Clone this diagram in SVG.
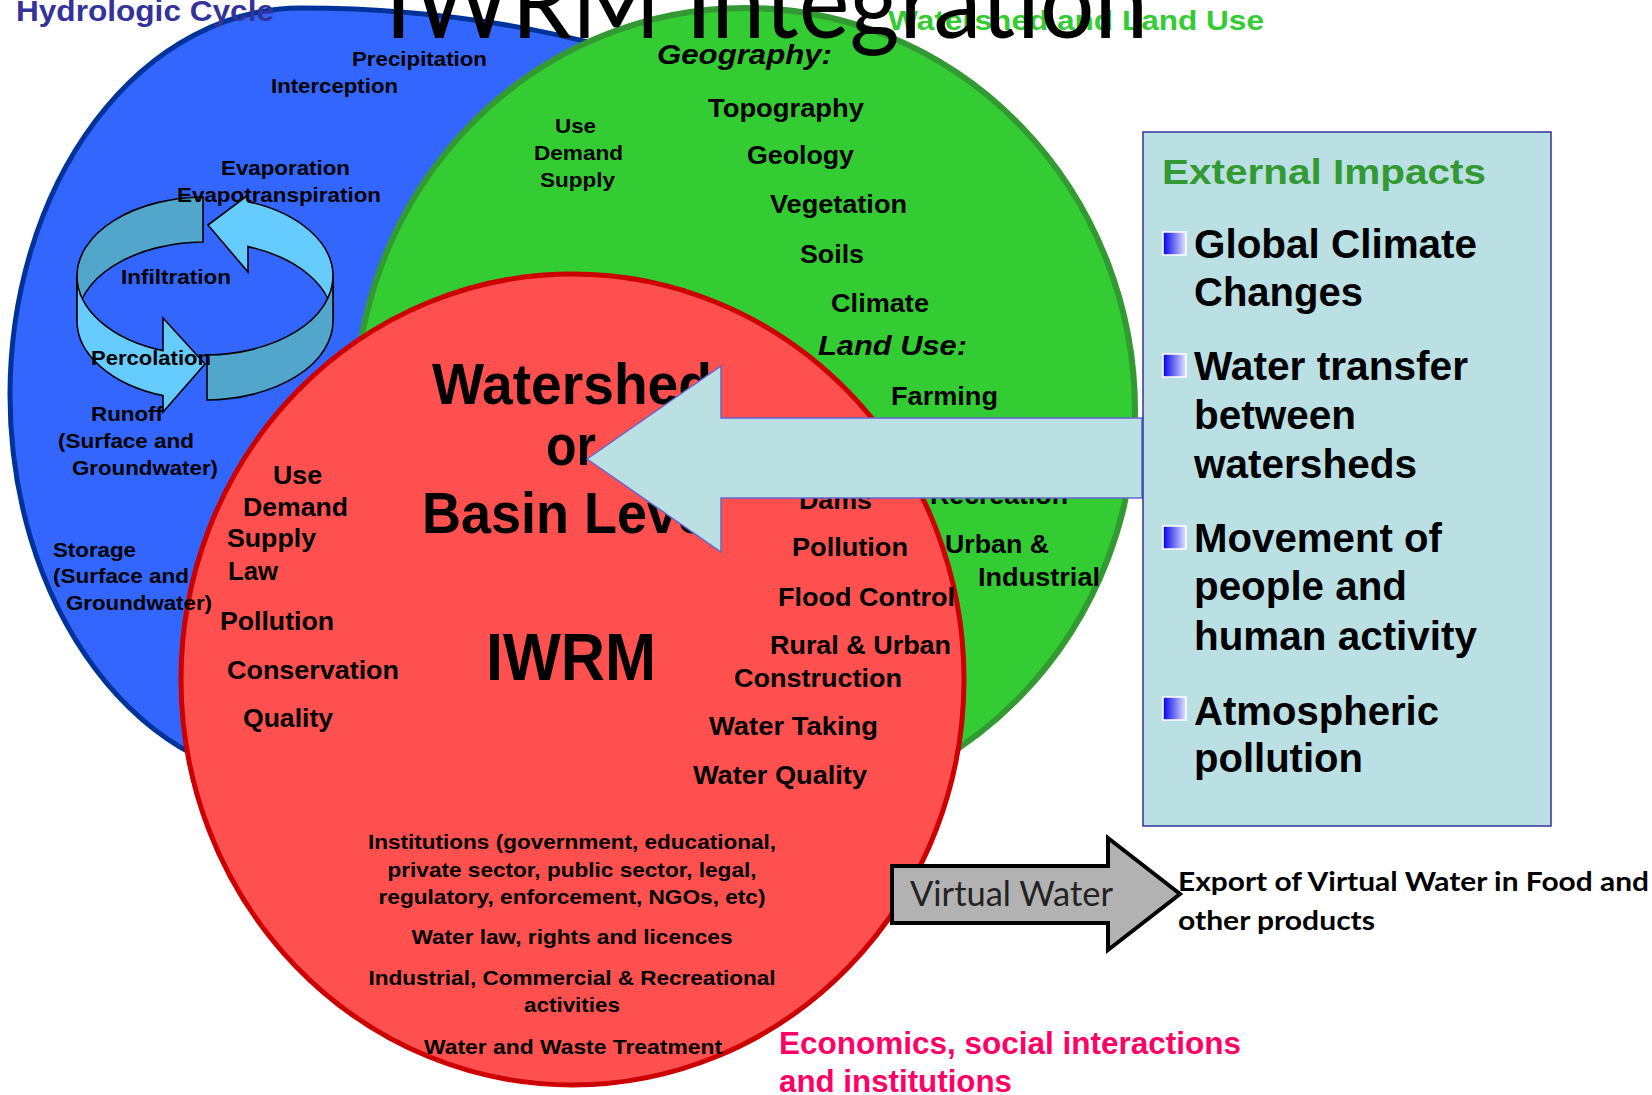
<svg xmlns="http://www.w3.org/2000/svg" width="1652" height="1095" viewBox="0 0 1652 1095">
  <defs>
    <style>
      .b { font-family: "Liberation Sans", Arial, sans-serif; font-weight: bold; fill: #000; }
      .n { font-family: "Liberation Sans Narrow", "Liberation Sans", Arial, sans-serif; font-weight: bold; fill: #000; }
      .it { font-style: italic; }
      .c { text-anchor: middle; }
      .ring-dark { fill: #52A5CB; stroke: #000; stroke-width: 1.6; stroke-linejoin: miter; }
      .ring-light { fill: #66CCFF; stroke: #000; stroke-width: 1.6; stroke-linejoin: miter; }
      .bullet { fill: url(#bulletFill); stroke: #fff; stroke-width: 1.5; }
    </style>
    <linearGradient id="bulletFill" x1="0" y1="0" x2="1" y2="0">
      <stop offset="0" stop-color="#0000E8"/>
      <stop offset="1" stop-color="#E4E4FF"/>
    </linearGradient>
  </defs>

  <rect width="1652" height="1095" fill="#fff"/>

  <!-- Venn circles -->
  <g id="hydrologic-cycle-shape">
    <!-- left half follows a narrow ellipse, the top-right quarter a flatter one; the rest lies under the other circles -->
    <path d="M301,782 A291,387 0 0 1 301,8 A700,387 0 0 1 1001,395 L700,700 Z" fill="#3366FF" stroke="#003399" stroke-width="5" stroke-linejoin="round"/>
    <!-- circular arrow of the water cycle -->
    <g id="cycle-ring">
      <path class="ring-dark" d="M203,197 A128,79 0 0 0 77,276 L77,321 A128,79 0 0 1 203,242 Z"/>
      <path class="ring-light" d="M208,225 L248,195 L248,201.6 A128,79 0 0 1 333,276 L333,321 A128,79 0 0 0 248,246.6 L248,272 Z"/>
      <path class="ring-dark" d="M333,276 A128,79 0 0 1 207,355 L207,400 A128,79 0 0 0 333,321 Z"/>
      <path class="ring-light" d="M77,276 A128,79 0 0 0 163,350.6 L163,318 L205,364 L163,412 L163,395.6 A128,79 0 0 1 77,321 Z"/>
    </g>
  </g>
  <g id="watershed-land-use-shape">
    <ellipse cx="745" cy="411" rx="390" ry="403" fill="#33CC33" stroke="#339933" stroke-width="6"/>
  </g>
  <g id="iwrm-basin-shape">
    <ellipse cx="572.5" cy="679.5" rx="391.5" ry="405.5" fill="#FF5050" stroke="#CC0000" stroke-width="5"/>
  </g>

  <!-- Hydrologic cycle labels -->
  <g id="hydrologic-cycle">
    <text x="16" y="21" class="b" font-size="29" style="fill:#333399" textLength="258" lengthAdjust="spacingAndGlyphs">Hydrologic Cycle</text>
    <text x="352" y="66" class="n" font-size="21" textLength="135" lengthAdjust="spacingAndGlyphs">Precipitation</text>
    <text x="271" y="93" class="n" font-size="21" textLength="127" lengthAdjust="spacingAndGlyphs">Interception</text>
    <text x="221" y="175" class="n" font-size="21" textLength="129" lengthAdjust="spacingAndGlyphs">Evaporation</text>
    <text x="177" y="202" class="n" font-size="21" textLength="204" lengthAdjust="spacingAndGlyphs">Evapotranspiration</text>
    <text x="121" y="284" class="n" font-size="21" textLength="110" lengthAdjust="spacingAndGlyphs">Infiltration</text>
    <text x="91" y="365" class="n" font-size="21" textLength="120" lengthAdjust="spacingAndGlyphs">Percolation</text>
    <text x="91" y="421" class="b" font-size="21" textLength="72" lengthAdjust="spacingAndGlyphs">Runoff</text>
    <text x="58" y="448" class="b" font-size="21" textLength="136" lengthAdjust="spacingAndGlyphs">(Surface and</text>
    <text x="72" y="475" class="b" font-size="21" textLength="146" lengthAdjust="spacingAndGlyphs">Groundwater)</text>
    <text x="53" y="557" class="b" font-size="21" textLength="83" lengthAdjust="spacingAndGlyphs">Storage</text>
    <text x="53" y="583" class="b" font-size="21" textLength="136" lengthAdjust="spacingAndGlyphs">(Surface and</text>
    <text x="66" y="610" class="b" font-size="21" textLength="146" lengthAdjust="spacingAndGlyphs">Groundwater)</text>
  </g>

  <!-- Watershed and land use labels -->
  <g id="watershed-land-use">
    <text x="888" y="30" class="b" font-size="28" style="fill:#33CC33" textLength="376" lengthAdjust="spacingAndGlyphs">Watershed and Land Use</text>
    <text x="555" y="133" class="n" font-size="21" textLength="41" lengthAdjust="spacingAndGlyphs">Use</text>
    <text x="534" y="160" class="n" font-size="21" textLength="89" lengthAdjust="spacingAndGlyphs">Demand</text>
    <text x="540" y="187" class="n" font-size="21" textLength="75" lengthAdjust="spacingAndGlyphs">Supply</text>
    <text x="657" y="64" class="n it" font-size="28" textLength="175" lengthAdjust="spacingAndGlyphs">Geography:</text>
    <text x="708" y="117" class="n" font-size="25" textLength="156" lengthAdjust="spacingAndGlyphs">Topography</text>
    <text x="747" y="164" class="n" font-size="25" textLength="107" lengthAdjust="spacingAndGlyphs">Geology</text>
    <text x="770" y="213" class="n" font-size="25" textLength="137" lengthAdjust="spacingAndGlyphs">Vegetation</text>
    <text x="800" y="263" class="n" font-size="25" textLength="64" lengthAdjust="spacingAndGlyphs">Soils</text>
    <text x="831" y="312" class="n" font-size="25" textLength="98" lengthAdjust="spacingAndGlyphs">Climate</text>
    <text x="818" y="355" class="n it" font-size="28" textLength="149" lengthAdjust="spacingAndGlyphs">Land Use:</text>
    <text x="891" y="405" class="n" font-size="25" textLength="107" lengthAdjust="spacingAndGlyphs">Farming</text>
    <text x="930" y="504" class="n" font-size="25" textLength="138" lengthAdjust="spacingAndGlyphs">Recreation</text>
    <text x="945" y="553" class="b" font-size="25" textLength="104" lengthAdjust="spacingAndGlyphs">Urban &amp;</text>
    <text x="978" y="586" class="b" font-size="25" textLength="122" lengthAdjust="spacingAndGlyphs">Industrial</text>
  </g>

  <!-- IWRM / basin level labels -->
  <g id="iwrm-basin">
    <text x="572" y="404" class="n c" font-size="57" textLength="280" lengthAdjust="spacingAndGlyphs">Watershed</text>
    <text x="571" y="465" class="n c" font-size="57" textLength="50" lengthAdjust="spacingAndGlyphs">or</text>
    <text x="572" y="533" class="n c" font-size="57" textLength="300" lengthAdjust="spacingAndGlyphs">Basin Level</text>
    <text x="486" y="680" class="n" font-size="66" textLength="170" lengthAdjust="spacingAndGlyphs">IWRM</text>

    <text x="273" y="484" class="b" font-size="26" textLength="49" lengthAdjust="spacingAndGlyphs">Use</text>
    <text x="243" y="516" class="b" font-size="26" textLength="105" lengthAdjust="spacingAndGlyphs">Demand</text>
    <text x="227" y="547" class="b" font-size="26" textLength="89" lengthAdjust="spacingAndGlyphs">Supply</text>
    <text x="228" y="580" class="b" font-size="26" textLength="50" lengthAdjust="spacingAndGlyphs">Law</text>
    <text x="220" y="630" class="b" font-size="26" textLength="114" lengthAdjust="spacingAndGlyphs">Pollution</text>
    <text x="227" y="679" class="b" font-size="26" textLength="172" lengthAdjust="spacingAndGlyphs">Conservation</text>
    <text x="243" y="727" class="b" font-size="26" textLength="90" lengthAdjust="spacingAndGlyphs">Quality</text>

    <text x="799" y="509" class="b" font-size="25" textLength="73" lengthAdjust="spacingAndGlyphs">Dams</text>
    <text x="792" y="556" class="b" font-size="25" textLength="116" lengthAdjust="spacingAndGlyphs">Pollution</text>
    <text x="778" y="606" class="n" font-size="25" textLength="177" lengthAdjust="spacingAndGlyphs">Flood Control</text>
    <text x="770" y="654" class="n" font-size="25" textLength="181" lengthAdjust="spacingAndGlyphs">Rural &amp; Urban</text>
    <text x="734" y="687" class="n" font-size="25" textLength="168" lengthAdjust="spacingAndGlyphs">Construction</text>
    <text x="709" y="735" class="n" font-size="25" textLength="169" lengthAdjust="spacingAndGlyphs">Water Taking</text>
    <text x="693" y="784" class="n" font-size="25" textLength="174" lengthAdjust="spacingAndGlyphs">Water Quality</text>

    <text x="572" y="849" class="n c" font-size="21" textLength="408" lengthAdjust="spacingAndGlyphs">Institutions (government, educational,</text>
    <text x="572" y="877" class="n c" font-size="21" textLength="369" lengthAdjust="spacingAndGlyphs">private sector, public sector, legal,</text>
    <text x="572" y="904" class="n c" font-size="21" textLength="387" lengthAdjust="spacingAndGlyphs">regulatory, enforcement, NGOs, etc)</text>
    <text x="572" y="944" class="n c" font-size="21" textLength="321" lengthAdjust="spacingAndGlyphs">Water law, rights and licences</text>
    <text x="572" y="985" class="n c" font-size="21" textLength="407" lengthAdjust="spacingAndGlyphs">Industrial, Commercial &amp; Recreational</text>
    <text x="572" y="1012" class="n c" font-size="21" textLength="96" lengthAdjust="spacingAndGlyphs">activities</text>
    <text x="573" y="1054" class="n c" font-size="21" textLength="298" lengthAdjust="spacingAndGlyphs">Water and Waste Treatment</text>
  </g>

  <!-- Block arrows -->
  <g id="connectors">
    <path id="impact-arrow" d="M587,459 L721,366 L721,418 L1142,418 L1142,498 L721,498 L721,552 Z" fill="#BBE0E3" stroke="#6666CC" stroke-width="1.5"/>
    <path id="virtual-water-arrow" d="M892,866 L1108,866 L1108,838 L1180,894 L1108,950 L1108,923 L892,923 Z" fill="#B2B2B2" stroke="#000" stroke-width="4"/>
    <text x="910" y="906" font-family="Lato, 'Open Sans', sans-serif" font-size="35" fill="#222" textLength="203" lengthAdjust="spacingAndGlyphs">Virtual Water</text>
  </g>

  <!-- External impacts panel -->
  <g id="external-impacts">
    <rect x="1143" y="132" width="408" height="694" fill="#BBE0E3" stroke="#333399" stroke-width="1.5"/>
    <text x="1162" y="184" class="b" font-size="35" style="fill:#339933" textLength="324" lengthAdjust="spacingAndGlyphs">External Impacts</text>
    <rect class="bullet" x="1163" y="232" width="23" height="23"/>
    <text x="1194" y="258" class="b" font-size="41" textLength="283" lengthAdjust="spacingAndGlyphs">Global Climate</text>
    <text x="1194" y="306" class="b" font-size="41" textLength="169" lengthAdjust="spacingAndGlyphs">Changes</text>
    <rect class="bullet" x="1163" y="354" width="23" height="23"/>
    <text x="1194" y="380" class="b" font-size="41" textLength="274" lengthAdjust="spacingAndGlyphs">Water transfer</text>
    <text x="1194" y="429" class="b" font-size="41" textLength="162" lengthAdjust="spacingAndGlyphs">between</text>
    <text x="1194" y="478" class="b" font-size="41" textLength="223" lengthAdjust="spacingAndGlyphs">watersheds</text>
    <rect class="bullet" x="1163" y="526" width="23" height="23"/>
    <text x="1194" y="552" class="b" font-size="41" textLength="248" lengthAdjust="spacingAndGlyphs">Movement of</text>
    <text x="1194" y="600" class="b" font-size="41" textLength="213" lengthAdjust="spacingAndGlyphs">people and</text>
    <text x="1194" y="650" class="b" font-size="41" textLength="283" lengthAdjust="spacingAndGlyphs">human activity</text>
    <rect class="bullet" x="1163" y="697" width="23" height="23"/>
    <text x="1194" y="725" class="b" font-size="41" textLength="245" lengthAdjust="spacingAndGlyphs">Atmospheric</text>
    <text x="1194" y="772" class="b" font-size="41" textLength="169" lengthAdjust="spacingAndGlyphs">pollution</text>
  </g>

  <!-- Virtual water export -->
  <g id="virtual-water-export">
    <text x="1178" y="891" font-family="Lato, 'Open Sans', sans-serif" font-weight="bold" font-size="27" fill="#000" textLength="471" lengthAdjust="spacingAndGlyphs">Export of Virtual Water in Food and</text>
    <text x="1178" y="930" font-family="Lato, 'Open Sans', sans-serif" font-weight="bold" font-size="27" fill="#000" textLength="197" lengthAdjust="spacingAndGlyphs">other products</text>
  </g>

  <!-- Economics caption -->
  <g id="economics">
    <text x="779" y="1054" class="n" font-size="31" style="fill:#FF0066" textLength="462" lengthAdjust="spacingAndGlyphs">Economics, social interactions</text>
    <text x="779" y="1092" class="n" font-size="31" style="fill:#FF0066" textLength="233" lengthAdjust="spacingAndGlyphs">and institutions</text>
  </g>

  <!-- Title -->
  <text id="title" x="385" y="38" font-family="Lato, 'Open Sans', sans-serif" font-size="100" fill="#000" textLength="763" lengthAdjust="spacingAndGlyphs">IWRM Integration</text>
</svg>
